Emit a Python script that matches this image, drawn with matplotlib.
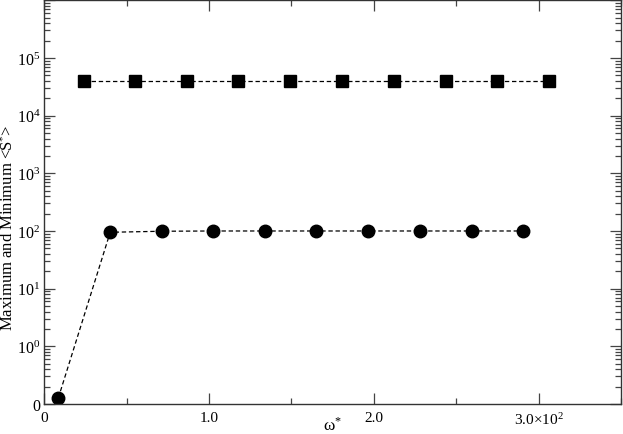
import matplotlib
matplotlib.use("Agg")
import matplotlib.pyplot as plt
from matplotlib.ticker import FixedLocator, FuncFormatter, LogLocator, MultipleLocator, NullFormatter

plt.rcParams['font.family'] = ['Liberation Serif', 'DejaVu Serif']
plt.rcParams['mathtext.fontset'] = 'custom'
plt.rcParams['mathtext.rm'] = 'Liberation Serif'
plt.rcParams['mathtext.it'] = 'Liberation Serif:italic'

# Data
circle_x = [8.5, 40.0, 71.7, 102.4, 133.7, 165.0, 196.5, 228.0, 259.4, 290.7]
circle_y = [0.127, 95.0, 99.0, 100.0, 100.0, 100.0, 100.0, 100.0, 100.0, 100.0]
square_x = [24.2, 55.2, 86.5, 117.8, 149.0, 180.6, 212.0, 243.5, 274.8, 306.0]
square_y = [40000.0] * 10

x_ticks = [0, 100, 200, 300]
x_tick_labels = ["0", "1.0", "2.0", r"3.0$\times$10$^{2}$"]
y_ticks = [1e-1, 1e0, 1e1, 1e2, 1e3, 1e4, 1e5]
y_tick_labels = ["0", r"10$^{0}$", r"10$^{1}$", r"10$^{2}$", r"10$^{3}$", r"10$^{4}$", r"10$^{5}$"]

fig = plt.figure(figsize=(6.23, 4.35), dpi=100)
ax = fig.add_axes([44.3 / 623, 1 - 405 / 435, (621 - 44.3) / 623, (405 - 1.3) / 435])

ax.plot(circle_x, circle_y, color='black', linestyle=(0, (3.5, 2.2)), linewidth=0.9,
        marker='o', markersize=9, markerfacecolor='black', markeredgecolor='black')
ax.plot(square_x, square_y, color='black', linestyle=(0, (3.5, 2.2)), linewidth=0.9,
        marker='s', markersize=8, markerfacecolor='black', markeredgecolor='black')

ax.set_yscale('log')
ax.set_xlim(0, 350)
ax.set_ylim(1e-1, 1e6)

ax.xaxis.set_major_locator(FixedLocator(x_ticks))
ax.set_xticklabels(x_tick_labels)
ax.xaxis.set_minor_locator(MultipleLocator(50))


def ylab(v, p):
    for t, lab in zip(y_ticks, y_tick_labels):
        if abs(v - t) / t < 1e-6:
            return lab
    return ""


ax.yaxis.set_major_locator(FixedLocator(y_ticks + [1e6]))
ax.yaxis.set_major_formatter(FuncFormatter(ylab))
ax.yaxis.set_minor_locator(LogLocator(base=10, subs=range(2, 10), numticks=20))
ax.yaxis.set_minor_formatter(NullFormatter())

ax.tick_params(which='both', direction='in', top=True, right=True,
               width=0.9, color='#444444')
ax.tick_params(axis='x', which='major', labelsize=11, pad=5)
ax.tick_params(axis='y', which='major', labelsize=11.5, pad=3)
ax.tick_params(which='major', length=8)
ax.tick_params(which='minor', length=4)

for s in ax.spines.values():
    s.set_linewidth(1.0)
    s.set_color('#333333')

ax.set_xlabel("ω$^{*}$", fontsize=12.5)
ax.xaxis.set_label_coords(0.5, -0.029)

ax.set_ylabel(r"Maximum and Minimum <S$^{*}$>", fontsize=12)
ax.yaxis.label.set_va('center')
ax.yaxis.set_label_coords((8 - 44.3) / 576.7, (405 - 228) / 403.7)

fig.savefig("out.png", dpi=100)
